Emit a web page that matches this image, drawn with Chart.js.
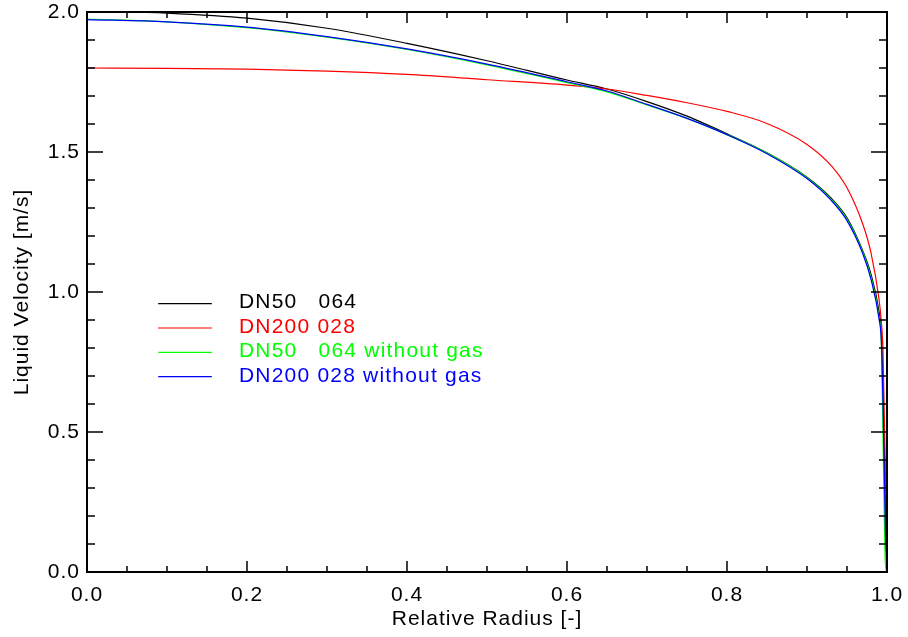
<!DOCTYPE html>
<html>
<head>
<meta charset="utf-8">
<script src="https://cdn.jsdelivr.net/npm/chart.js@4"></script>
<style>
  html, body { margin: 0; padding: 0; background: #fff; }
  #wrap { width: 908px; height: 637px; }
</style>
</head>
<body>
<div id="wrap"><canvas id="profileChart"></canvas></div>
<script>
// relative radius (x) and liquid velocity values in m/s
const radius = [0, 0.1, 0.2, 0.3, 0.4, 0.5, 0.6, 0.65, 0.7, 0.75, 0.8, 0.85, 0.9, 0.93, 0.95, 0.97, 0.98, 0.99, 0.993, 0.995, 0.998, 1.0];
const dn50_064 =        [2.005, 1.996, 1.978, 1.942, 1.888, 1.826, 1.757, 1.725, 1.680, 1.628, 1.565, 1.497, 1.410, 1.336, 1.265, 1.145, 1.063, 0.930, 0.850, 0.660, 0.250, 0];
const dn200_028 =       [1.800, 1.799, 1.796, 1.789, 1.777, 1.758, 1.739, 1.725, 1.702, 1.676, 1.645, 1.602, 1.527, 1.452, 1.372, 1.240, 1.140, 0.975, 0.890, 0.790, 0.350, 0];
const dn50_064_nogas =  [1.975, 1.965, 1.944, 1.910, 1.866, 1.811, 1.748, 1.715, 1.668, 1.620, 1.562, 1.496, 1.408, 1.332, 1.260, 1.140, 1.052, 0.910, 0.810, 0.480, 0.030, 0];
const dn200_028_nogas = [1.973, 1.965, 1.946, 1.912, 1.868, 1.814, 1.751, 1.718, 1.670, 1.620, 1.562, 1.494, 1.405, 1.328, 1.255, 1.135, 1.045, 0.905, 0.820, 0.600, 0.150, 0];

const seriesLabels = ['DN50   064', 'DN200 028', 'DN50   064 without gas', 'DN200 028 without gas'];
const seriesColors = ['#000000', '#ff0000', '#00ff00', '#0000ff'];
const seriesValues = [dn50_064, dn200_028, dn50_064_nogas, dn200_028_nogas];

const xTitle = 'Relative Radius [-]';
const yTitle = 'Liquid Velocity [m/s]';

Chart.defaults.font.family = "'Liberation Sans', Arial, Helvetica, sans-serif";
Chart.defaults.font.size = 21;
Chart.defaults.color = '#000';

// wider letter spacing, the source font is quite wide
const spacingPlugin = {
    id: 'spacing',
    beforeLayout(chart) { chart.ctx.letterSpacing = '1px'; },
    beforeDraw(chart) { chart.ctx.letterSpacing = '1px'; }
};

// box around the plot plus inward ticks on all four sides
const framePlugin = {
    id: 'frame',
    afterDatasetsDraw(chart) {
        const ctx = chart.ctx;
        const a = chart.chartArea;
        const xs = chart.scales.x, ys = chart.scales.y;
        ctx.save();
        ctx.strokeStyle = '#000';
        ctx.lineWidth = 1.5;
        ctx.beginPath();
        xs.ticks.forEach(t => {
            const px = xs.getPixelForValue(t.value);
            const len = t.label !== '' ? 11 : 6;
            ctx.moveTo(px, a.bottom); ctx.lineTo(px, a.bottom - len);
            ctx.moveTo(px, a.top); ctx.lineTo(px, a.top + len);
        });
        ys.ticks.forEach(t => {
            const py = ys.getPixelForValue(t.value);
            const len = t.label !== '' ? 16 : 8;
            ctx.moveTo(a.left, py); ctx.lineTo(a.left + len, py);
            ctx.moveTo(a.right, py); ctx.lineTo(a.right - len, py);
        });
        ctx.stroke();
        ctx.lineWidth = 2;
        ctx.strokeRect(a.left, a.top, a.right - a.left, a.bottom - a.top);
        ctx.restore();
    }
};

// legend inside the plot, text in the line colour
const legendPlugin = {
    id: 'innerLegend',
    afterDraw(chart) {
        const ctx = chart.ctx;
        const xs = chart.scales.x, ys = chart.scales.y;
        const x0 = xs.getPixelForValue(0.089);
        const x1 = xs.getPixelForValue(0.156);
        const tx = xs.getPixelForValue(0.19);
        ctx.save();
        ctx.font = "21px 'Liberation Sans', Arial, sans-serif";
        ctx.letterSpacing = '1.2px';
        ctx.textBaseline = 'middle';
        chart.data.datasets.forEach((ds, i) => {
            const y = ys.getPixelForValue(0.962 - i * 0.087);
            ctx.strokeStyle = ds.borderColor;
            ctx.lineWidth = 1.2;
            ctx.beginPath();
            ctx.moveTo(x0, y + 1);
            ctx.lineTo(x1, y + 1);
            ctx.stroke();
            ctx.fillStyle = ds.borderColor;
            ctx.fillText(ds.label, tx, y);
        });
        ctx.restore();
    }
};

const datasets = seriesValues.map((vals, i) => ({
    label: seriesLabels[i],
    data: radius.map((r, j) => ({ x: r, y: vals[j] })),
    borderColor: seriesColors[i],
    backgroundColor: seriesColors[i],
    borderWidth: 1.2,
    pointRadius: 0,
    fill: false,
    cubicInterpolationMode: 'monotone',
    order: 4 - i
}));

new Chart(document.getElementById('profileChart'), {
    type: 'line',
    data: { datasets: datasets },
    plugins: [spacingPlugin, framePlugin, legendPlugin],
    options: {
        responsive: true,
        maintainAspectRatio: false,
        animation: false,
        layout: { padding: { top: 12, right: 21, bottom: 0, left: 0 } },
        plugins: {
            legend: { display: false },
            tooltip: { enabled: false }
        },
        scales: {
            x: {
                type: 'linear',
                min: 0,
                max: 1,
                afterFit: s => { s.height = 65; s.paddingLeft = 0; s.paddingRight = 0; },
                grid: { display: false, drawTicks: false },
                border: { display: false },
                ticks: {
                    stepSize: 0.05,
                    autoSkip: false,
                    maxRotation: 0,
                    padding: 11,
                    callback: v => (Math.round(v * 100) % 20 === 0 ? v.toFixed(1) : '')
                },
                title: { display: true, text: xTitle, padding: { top: 5, bottom: 5 } }
            },
            y: {
                type: 'linear',
                min: 0,
                max: 2,
                afterFit: s => { s.width = 87; s.paddingTop = 0; s.paddingBottom = 0; },
                grid: { display: false, drawTicks: false },
                border: { display: false },
                ticks: {
                    stepSize: 0.1,
                    autoSkip: false,
                    padding: 7,
                    callback: v => (Math.round(v * 10) % 5 === 0 ? v.toFixed(1) : '')
                },
                title: { display: true, text: yTitle, padding: { top: 10, bottom: 0 } }
            }
        }
    }
});
</script>
</body>
</html>
